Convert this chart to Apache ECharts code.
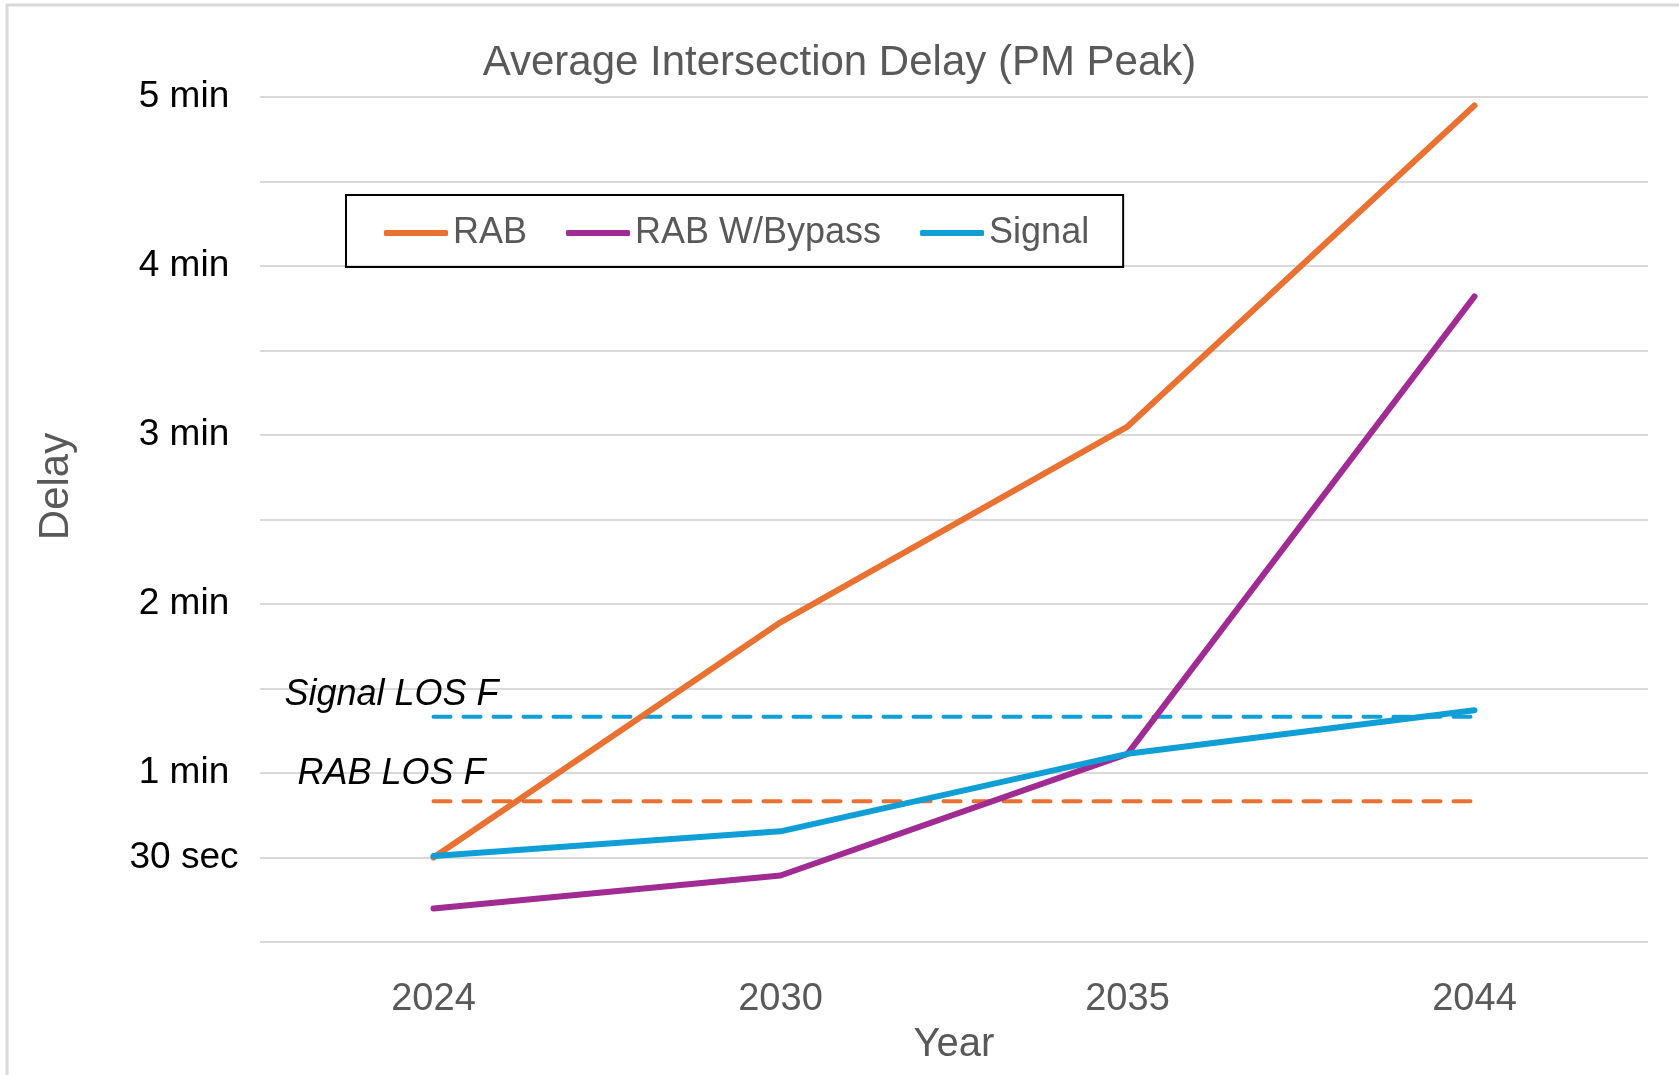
<!DOCTYPE html>
<html>
<head>
<meta charset="utf-8">
<title>Average Intersection Delay (PM Peak)</title>
<script src="https://cdn.jsdelivr.net/npm/echarts@6/dist/echarts.min.js"></script>
<style>
    html, body { margin: 0; padding: 0; background: #fff; }
    #delay_chart { width: 1679px; height: 1075px; }
</style>
</head>
<body>
<div id="delay_chart"></div>
<script>
// values in seconds
const years = ['2024', '2030', '2035', '2044'];
const rabDelay = [30, 113.5, 183, 297];
const rabBypassDelay = [11.9, 23.6, 66.8, 229.2];
const signalDelay = [30.5, 39.3, 66.8, 82.3];
const signalLosF = [80, 80, 80, 80];
const rabLosF = [50, 50, 50, 50];
const delayTicks = [30, 60, 120, 180, 240, 300];
const delayTickLabels = ['30 sec', '1 min', '2 min', '3 min', '4 min', '5 min'];

const font = '"Liberation Sans", Arial, sans-serif';
const grey = '#595959';

function losLabel(text, value, dx, dy) {
    return {
        symbol: 'circle',
        symbolSize: 1,
        itemStyle: { color: 'rgba(0,0,0,0)' },
        data: [{ coord: [0, value] }],
        label: {
            show: true,
            position: 'inside',
            offset: [dx, dy],
            formatter: text,
            color: '#000',
            fontStyle: 'italic',
            fontFamily: font,
            fontSize: 36
        }
    };
}

var chart = echarts.init(document.getElementById('delay_chart'));

const option = {
    animation: false,
    color: ['#E97132', '#A02B93', '#0F9ED5'],
    textStyle: { fontFamily: font },
    title: {
        text: 'Average Intersection Delay (PM Peak)',
        left: 'center',
        top: 37,
        textStyle: { color: grey, fontSize: 42, fontWeight: 'normal', fontFamily: font }
    },
    legend: {
        data: ['RAB', 'RAB W/Bypass', 'Signal'],
        left: 346,
        top: 195,
        padding: [18, 34, 14, 38],
        borderColor: '#000',
        borderWidth: 2,
        borderRadius: 0,
        icon: 'roundRect',
        itemWidth: 64,
        itemHeight: 6,
        itemGap: 39,
        textStyle: { color: grey, fontSize: 36, fontFamily: font, lineHeight: 40 }
    },
    graphic: [{
        type: 'rect',
        shape: { x: 7, y: 5, width: 1700, height: 1100 },
        style: { fill: 'none', stroke: '#d9d9d9', lineWidth: 3 },
        z: -10
    }],
    grid: { left: 260, right: 31, top: 97, bottom: 133 },
    xAxis: {
        type: 'category',
        data: years,
        name: 'Year',
        nameLocation: 'middle',
        nameGap: 83,
        nameTextStyle: { color: grey, fontSize: 40, fontFamily: font },
        axisLine: { show: false },
        axisTick: { show: false },
        axisLabel: { color: grey, fontSize: 38, margin: 39, fontFamily: font }
    },
    yAxis: {
        type: 'value',
        min: 0,
        max: 300,
        interval: 30,
        name: 'Delay',
        nameLocation: 'middle',
        nameRotate: 90,
        nameGap: 183,
        nameTextStyle: { color: grey, fontSize: 42, fontFamily: font, padding: [0, 0, 0, 66] },
        axisLine: { show: false },
        axisTick: { show: false },
        splitLine: { lineStyle: { color: '#d9d9d9', width: 2 } },
        axisLabel: {
            color: '#000',
            fontSize: 37,
            fontFamily: font,
            align: 'center',
            margin: 76,
            formatter: function (v) {
                const i = delayTicks.indexOf(v);
                return i >= 0 ? delayTickLabels[i] : '';
            }
        }
    },
    series: [
        {
            name: 'Signal LOS F',
            type: 'line',
            data: signalLosF,
            showSymbol: false,
            color: '#0F9ED5',
            lineStyle: { width: 4, type: [17, 13], cap: 'round' },
            markPoint: losLabel('Signal LOS F', signalLosF[0], -42, -22)
        },
        {
            name: 'RAB LOS F',
            type: 'line',
            data: rabLosF,
            showSymbol: false,
            color: '#E97132',
            lineStyle: { width: 4, type: [17, 13], cap: 'round' },
            markPoint: losLabel('RAB LOS F', rabLosF[0], -42, -27)
        },
        {
            name: 'RAB',
            type: 'line',
            data: rabDelay,
            showSymbol: false,
            lineStyle: { width: 6, cap: 'round' }
        },
        {
            name: 'RAB W/Bypass',
            type: 'line',
            data: rabBypassDelay,
            showSymbol: false,
            lineStyle: { width: 6, cap: 'round' }
        },
        {
            name: 'Signal',
            type: 'line',
            data: signalDelay,
            showSymbol: false,
            lineStyle: { width: 6, cap: 'round' }
        }
    ]
};

chart.setOption(option);
window.addEventListener('resize', function () {
    chart.resize();
});
</script>
</body>
</html>
